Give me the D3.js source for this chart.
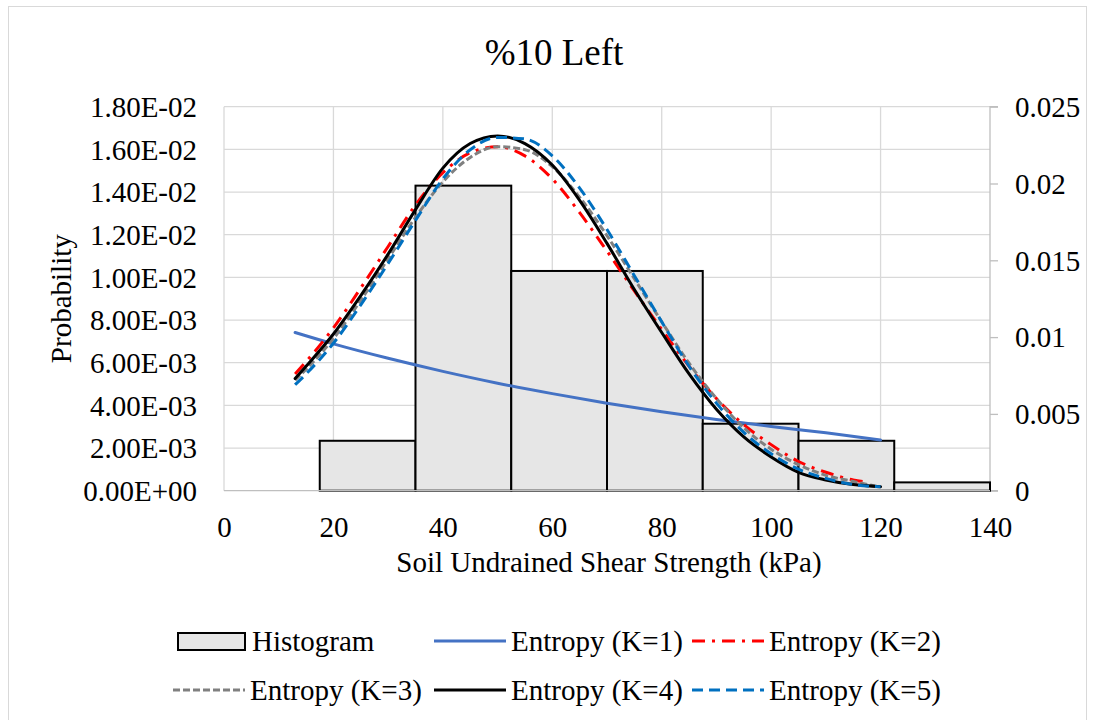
<!DOCTYPE html>
<html><head><meta charset="utf-8">
<script src="https://cdn.jsdelivr.net/npm/d3@7"></script>
<style>
html,body{margin:0;padding:0;background:#fff;}
text{font-family:"Liberation Serif","Times New Roman",serif;fill:#000;}
</style></head>
<body>
<svg id="chart" width="1094" height="720"></svg>
<script>
// ---------- DATA ----------
const titleText = "%10 Left";
const xLabel = "Soil Undrained Shear Strength (kPa)";
const yLabel = "Probability";
const xTicks = [0, 20, 40, 60, 80, 100, 120, 140];
const leftTicks = [0, 0.002, 0.004, 0.006, 0.008, 0.010, 0.012, 0.014, 0.016, 0.018];
const leftTickLabels = ["0.00E+00","2.00E-03","4.00E-03","6.00E-03","8.00E-03","1.00E-02","1.20E-02","1.40E-02","1.60E-02","1.80E-02"];
const rightTicks = [0, 0.005, 0.01, 0.015, 0.02, 0.025];
const rightTickLabels = ["0","0.005","0.01","0.015","0.02","0.025"];

// histogram (left axis)
const binStart = [17.5, 35, 52.5, 70, 87.5, 105, 122.5];
const binEnd   = [35, 52.5, 70, 87.5, 105, 122.5, 140];
const binValue = [0.00234, 0.0143, 0.0103, 0.0103, 0.00314, 0.00234, 0.00039];

// entropy curves (right axis)
const xK1 = [13, 20, 30, 40, 50, 60, 70, 80, 90, 100, 110, 120];
const yK1 = [0.0103, 0.00956, 0.00862, 0.00777, 0.0070, 0.00632, 0.0057, 0.00514, 0.00463, 0.00418, 0.00377, 0.0033];

const xK2 = [13, 15, 20, 25, 30, 35, 40, 45, 50, 55, 60, 65, 70, 75, 80, 85, 90, 95, 100, 105, 110, 115, 117.5];
const yK2 = [0.0076, 0.0084, 0.0106, 0.0132, 0.0159, 0.0186, 0.0207, 0.0220, 0.0224, 0.0218, 0.0203, 0.0181, 0.0156, 0.0130, 0.0105, 0.0081, 0.0060, 0.0043, 0.0030, 0.0019, 0.0012, 0.0007, 0.00057];

const xK3 = [13, 15, 20, 25, 30, 35, 40, 45, 50, 55, 60, 65, 70, 75, 80, 85, 90, 95, 100, 105, 110, 115, 119];
const yK3 = [0.0072, 0.0079, 0.0099, 0.0124, 0.0151, 0.0178, 0.0201, 0.0217, 0.0224, 0.0222, 0.0211, 0.0191, 0.0166, 0.0138, 0.0110, 0.0083, 0.0060, 0.0041, 0.0027, 0.0017, 0.0010, 0.0006, 0.0003];

const xK4 = [13, 15, 20, 25, 30, 35, 40, 45, 50, 55, 60, 65, 70, 75, 80, 85, 90, 95, 100, 105, 110, 115, 120];
const yK4 = [0.0073, 0.0081, 0.0102, 0.0127, 0.0154, 0.0183, 0.0210, 0.0226, 0.0231, 0.0226, 0.0212, 0.0189, 0.0161, 0.0131, 0.0103, 0.0076, 0.0053, 0.0035, 0.0022, 0.0012, 0.0007, 0.0004, 0.00026];

const xK5 = [13, 15, 20, 25, 30, 35, 40, 45, 50, 55, 60, 65, 70, 75, 80, 85, 90, 95, 100, 105, 110, 115, 120];
const yK5 = [0.0069, 0.0076, 0.0096, 0.0121, 0.0148, 0.0176, 0.0203, 0.0222, 0.0230, 0.0229, 0.0218, 0.0197, 0.0170, 0.0140, 0.0110, 0.0081, 0.0057, 0.0038, 0.0024, 0.0014, 0.0008, 0.0004, 0.00026];

const seriesNames = ["Entropy (K=1)", "Entropy (K=2)", "Entropy (K=3)", "Entropy (K=4)", "Entropy (K=5)"];
const seriesColors = ["#4472C4", "#FF0000", "#808080", "#000000", "#0070C0"];
const seriesDash = [null, "13,7,3,7", "7,3", null, "11,6"];

// ---------- LAYOUT ----------
const svg = d3.select("#chart");
const L = 224, R = 990, T = 106.7, B = 490.7;
const FS = 29;

const x = d3.scaleLinear().domain([0, 140]).range([L, R]);
const yL = d3.scaleLinear().domain([0, 0.018]).range([B, T]);
const yR = d3.scaleLinear().domain([0, 0.025]).range([B, T]);

// outer border
svg.append("rect").attr("x", 8.5).attr("y", 6.5).attr("width", 1078).attr("height", 730)
  .attr("fill", "none").attr("stroke", "#d9d9d9").attr("stroke-width", 1);

// title
svg.append("text").attr("x", 554).attr("y", 65).attr("text-anchor", "middle")
  .style("font-size", "37px").text(titleText);

// gridlines
const grid = svg.append("g");
grid.selectAll("line.h").data(leftTicks.slice(1)).join("line")
  .attr("x1", L).attr("x2", R).attr("y1", d => yL(d)).attr("y2", d => yL(d))
  .attr("stroke", "#d9d9d9").attr("stroke-width", 1.3);
grid.selectAll("line.v").data(xTicks.slice(0, -1)).join("line")
  .attr("x1", d => x(d)).attr("x2", d => x(d)).attr("y1", T).attr("y2", B)
  .attr("stroke", "#d9d9d9").attr("stroke-width", 1.3);

// right axis
const rAxis = d3.axisRight(yR).tickValues(rightTicks).tickSize(8)
  .tickFormat((d, i) => rightTickLabels[i]);
const ra = svg.append("g").attr("transform", `translate(${R},0)`).call(rAxis);
ra.select(".domain").attr("stroke", "#bfbfbf").attr("stroke-width", 1.3).attr("d", `M8,${T}H0V${B}H8`);
ra.selectAll(".tick line").attr("stroke", "#bfbfbf").attr("stroke-width", 1.3);
ra.selectAll(".tick text").attr("x", 25).attr("dy", "0.34em")
  .style("font-size", FS + "px").style("font-family", "Liberation Serif").attr("fill", "#000");

// left axis labels
const lAxis = d3.axisLeft(yL).tickValues(leftTicks).tickSize(0)
  .tickFormat((d, i) => leftTickLabels[i]);
const la = svg.append("g").attr("transform", `translate(${L},0)`).call(lAxis);
la.select(".domain").remove();
la.selectAll(".tick text").attr("x", -27).attr("dy", "0.34em")
  .style("font-size", FS + "px").style("font-family", "Liberation Serif").attr("fill", "#000");

// bottom axis
const bAxis = d3.axisBottom(x).tickValues(xTicks).tickSize(0).tickFormat(d3.format("d"));
const ba = svg.append("g").attr("transform", `translate(0,${B})`).call(bAxis);
ba.select(".domain").remove();
ba.selectAll(".tick text").attr("y", 46).attr("dy", 0)
  .style("font-size", FS + "px").style("font-family", "Liberation Serif").attr("fill", "#000");

// histogram bars
const bins = binStart.map((s, i) => ({ s, e: binEnd[i], v: binValue[i] }));
svg.append("g").selectAll("rect").data(bins).join("rect")
  .attr("x", d => x(d.s)).attr("width", d => x(d.e) - x(d.s))
  .attr("y", d => yL(d.v)).attr("height", d => B - yL(d.v))
  .attr("fill", "#e6e6e6").attr("stroke", "#000").attr("stroke-width", 2);

// bottom axis line
svg.append("line").attr("x1", L).attr("x2", R).attr("y1", B).attr("y2", B)
  .attr("stroke", "#bfbfbf").attr("stroke-width", 1.3);

// curves
const curveData = [
  d3.zip(xK1, yK1), d3.zip(xK2, yK2), d3.zip(xK3, yK3), d3.zip(xK4, yK4), d3.zip(xK5, yK5)
];
const line = d3.line().x(d => x(d[0])).y(d => yR(d[1])).curve(d3.curveMonotoneX);
const cg = svg.append("g");
curveData.forEach((pts, i) => {
  const p = cg.append("path").attr("d", line(pts)).attr("fill", "none")
    .attr("stroke", seriesColors[i]).attr("stroke-width", 3)
    .attr("stroke-linecap", i === 0 || i === 3 ? "round" : "butt");
  if (seriesDash[i]) p.attr("stroke-dasharray", seriesDash[i]);
});

// axis titles
svg.append("text").attr("x", (L + R) / 2 + 2).attr("y", 572).attr("text-anchor", "middle")
  .style("font-size", FS + "px").text(xLabel);
svg.append("text").attr("transform", `translate(71,${(T + B) / 2}) rotate(-90)`)
  .attr("text-anchor", "middle").style("font-size", FS + "px").text(yLabel);

// legend
const lg = svg.append("g");
const row1 = 641, row2 = 690;
lg.append("rect").attr("x", 178).attr("y", row1 - 8).attr("width", 67).attr("height", 17)
  .attr("fill", "#e6e6e6").attr("stroke", "#000").attr("stroke-width", 2);
lg.append("text").attr("x", 252).attr("y", row1).attr("dy", "0.34em")
  .style("font-size", FS + "px").text("Histogram");
const legPos = [
  { x: 434, y: row1 }, { x: 692, y: row1 },
  { x: 173, y: row2 }, { x: 434, y: row2 }, { x: 692, y: row2 }
];
seriesNames.forEach((n, i) => {
  const p = legPos[i];
  const l = lg.append("line").attr("x1", p.x).attr("x2", p.x + 72).attr("y1", p.y).attr("y2", p.y)
    .attr("stroke", seriesColors[i]).attr("stroke-width", 3);
  if (seriesDash[i]) l.attr("stroke-dasharray", seriesDash[i]);
  lg.append("text").attr("x", p.x + 77).attr("y", p.y).attr("dy", "0.34em")
    .style("font-size", FS + "px").text(n);
});
</script>
</body></html>
